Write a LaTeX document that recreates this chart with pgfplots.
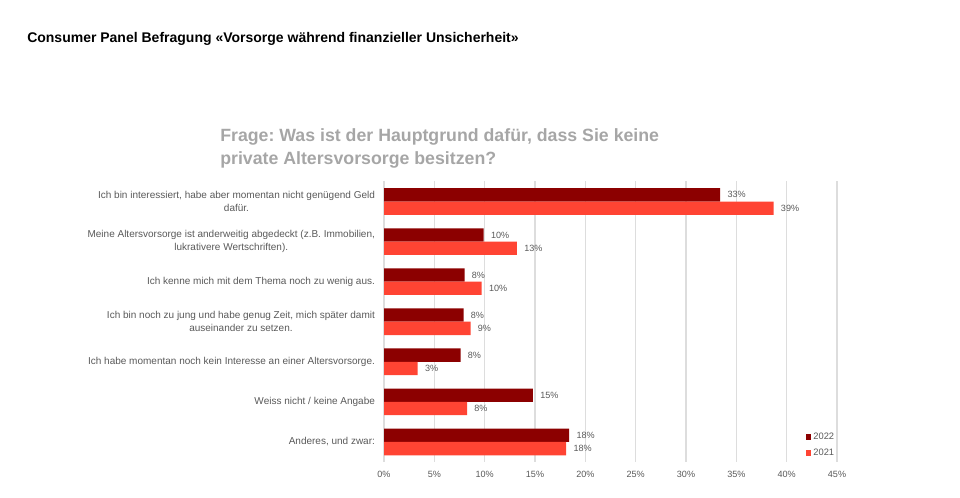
\documentclass[border=0pt]{standalone}
\usepackage{fontspec}
\setmainfont{Liberation Sans}
\usepackage{pgfplots}
\pgfplotsset{compat=1.18}
\frenchspacing

\definecolor{dk}{HTML}{8C0000}
\definecolor{lt}{HTML}{FF4433}
\definecolor{txt}{HTML}{595959}
\definecolor{grd}{HTML}{DDDDDD}
\definecolor{ttl}{HTML}{A6A6A6}

\begin{document}
\begin{tikzpicture}[x=0.75pt,y=0.75pt]
% page frame, pixel units from bottom-left
\path[use as bounding box] (0,0) rectangle (960,497);

\node[anchor=base west, inner sep=0pt, font=\bfseries\fontsize{10.5}{12}\selectfont]
  at (27,454.5) {Consumer Panel Befragung «Vorsorge während finanzieller Unsicherheit»};
\node[anchor=base west, inner sep=0pt, align=left, text=ttl, font=\bfseries\fontsize{13.3}{18}\selectfont]
  at (220,332) {Frage: Was ist der Hauptgrund dafür, dass Sie keine\\private Altersvorsorge besitzen?};

\begin{axis}[
    at={(288pt,26.25pt)}, anchor=south west,
    scale only axis, width=339.75pt, height=210.4pt,
    xbar, bar width=10pt,
    xmin=0, xmax=45, ymin=-0.5, ymax=6.5, y dir=reverse,
    xtick={0,5,...,45},
    xticklabel={\pgfmathprintnumber{\tick}\%},
    ytick={0,...,6},
    yticklabels={
      {Ich bin interessiert, habe aber momentan nicht genügend Geld\\dafür.},
      {Meine Altersvorsorge ist anderweitig abgedeckt (z.B. Immobilien,\\lukrativere Wertschriften).},
      {Ich kenne mich mit dem Thema noch zu wenig aus.},
      {Ich bin noch zu jung und habe genug Zeit, mich später damit\\auseinander zu setzen.},
      {Ich habe momentan noch kein Interesse an einer Altersvorsorge.},
      {Weiss nicht / keine Angabe},
      {Anderes, und zwar:}},
    yticklabel style={align=center, text=txt, font=\fontsize{7.5}{9.75}\selectfont, xshift=1pt},
    xticklabel style={text=txt, font=\fontsize{6.8}{8}\selectfont, yshift=-3pt},
    /pgf/number format/assume math mode=true,
    xmajorgrids, grid style={grd, line width=1pt},
    axis line style={draw=none}, tick style={draw=none},
    nodes near coords={\pgfmathprintnumber[fixed,precision=0]{\pgfplotspointmeta}\%},
    nodes near coords style={text=txt, font=\fontsize{6.8}{8}\selectfont, xshift=2pt},
    point meta=x,
    legend style={at={(0.93,0.112)}, anchor=north west, draw=none, fill=none,
      inner sep=0pt, row sep=2.5pt, font=\fontsize{7}{8}\selectfont, text=txt,
      nodes={inner sep=1.5pt}},
    legend cell align=left,
    legend image code/.code={\path[#1,draw=none] (0pt,-2.2pt) rectangle (4.4pt,2.2pt);},
]
\addplot[fill=dk, draw=none, bar shift=5pt] coordinates {
  (33.4,0) (9.9,1) (8.0,2) (7.9,3) (7.6,4) (14.8,5) (18.4,6)};
\addplot[fill=lt, draw=none, bar shift=-5pt] coordinates {
  (38.7,0) (13.2,1) (9.7,2) (8.6,3) (3.35,4) (8.25,5) (18.1,6)};
\legend{2022,2021}
\end{axis}
\end{tikzpicture}
\end{document}
